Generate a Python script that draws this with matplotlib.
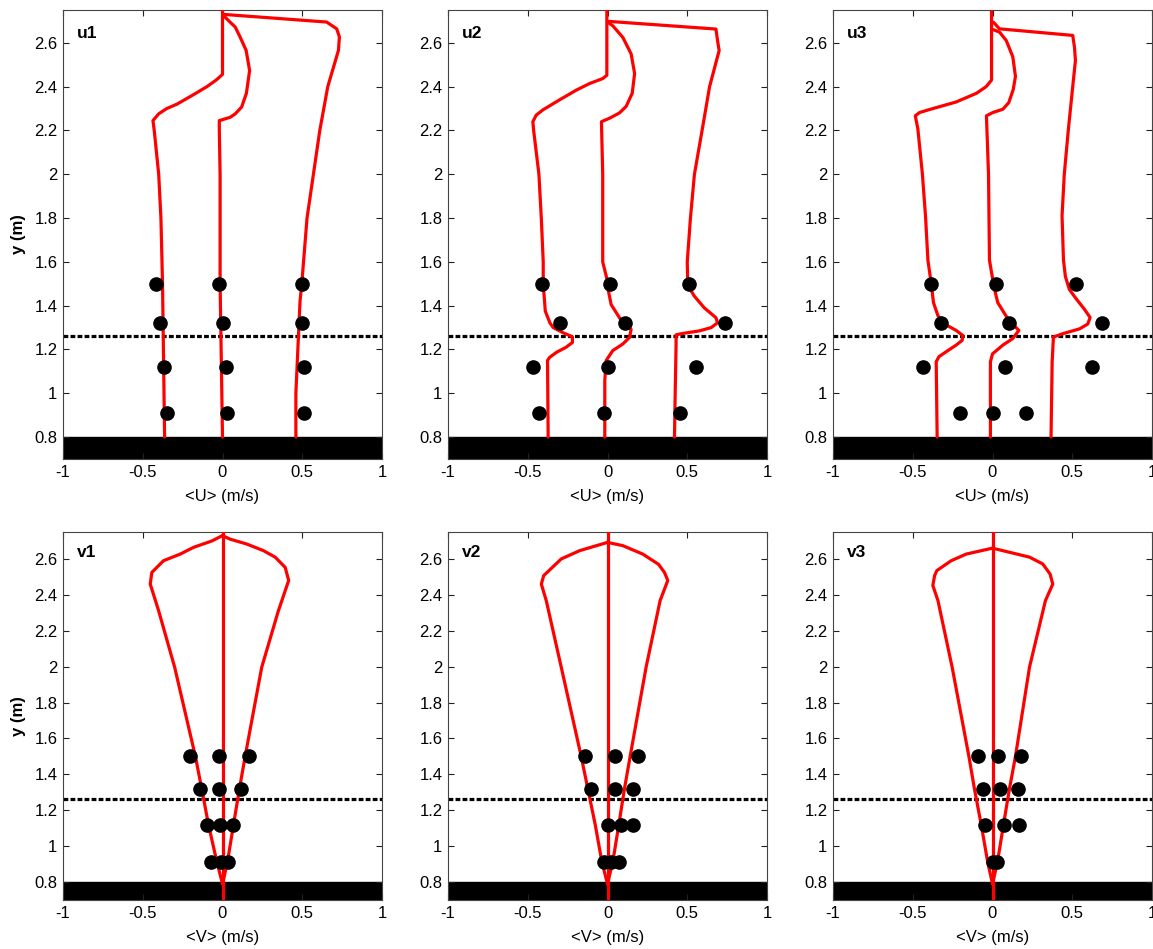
import numpy as np
import matplotlib
matplotlib.use("Agg")
import matplotlib.pyplot as plt
from matplotlib.ticker import FuncFormatter

plt.rcParams['font.family'] = ['Liberation Sans', 'DejaVu Sans']

# heights of the measurement points (same for every panel)
dot_y = [1.5, 1.32, 1.12, 0.91]
dashed_y = 1.26
bed_top = 0.8

# ---- u panels: three profiles each (left, middle, right) ----
u1_left_x = [-0.363, -0.376, -0.386, -0.40, -0.428, -0.436, -0.40, -0.35, -0.286, -0.19, -0.098, -0.04, 0.0, 0.0]
u1_left_y = [0.8, 1.5, 1.8, 2.0, 2.2, 2.245, 2.276, 2.30, 2.32, 2.36, 2.40, 2.43, 2.456, 2.75]
u1_mid_x = [0.0, -0.015, -0.015, -0.02, -0.02, 0.048, 0.08, 0.12, 0.15, 0.17, 0.148, 0.11, 0.08, 0.04, 0.006]
u1_mid_y = [0.8, 1.5, 2.0, 2.2, 2.245, 2.26, 2.276, 2.307, 2.37, 2.474, 2.566, 2.627, 2.672, 2.70, 2.725]
u1_right_x = [0.46, 0.46, 0.486, 0.497, 0.53, 0.57, 0.61, 0.66, 0.727, 0.733, 0.716, 0.653, 0.006]
u1_right_y = [0.8, 1.0, 1.42, 1.5, 1.8, 2.0, 2.2, 2.4, 2.566, 2.627, 2.664, 2.695, 2.73]
u1_dots = [[-0.42, -0.02, 0.50],
           [-0.39, 0.00, 0.50],
           [-0.365, 0.02, 0.51],
           [-0.35, 0.03, 0.51]]

u2_left_x = [-0.372, -0.376, -0.363, -0.32, -0.26, -0.22, -0.22, -0.28, -0.34, -0.36, -0.39, -0.403, -0.403,
             -0.415, -0.43, -0.463, -0.468, -0.447, -0.405, -0.30, -0.196, -0.113, -0.03, -0.004, -0.004]
u2_left_y = [0.8, 1.15, 1.164, 1.187, 1.21, 1.232, 1.258, 1.277, 1.30, 1.32, 1.375, 1.5, 1.6,
             1.8, 2.0, 2.2, 2.24, 2.27, 2.294, 2.34, 2.384, 2.414, 2.437, 2.452, 2.75]
u2_mid_x = [-0.017, -0.017, -0.008, 0.033, 0.096, 0.138, 0.148, 0.117, 0.075, 0.023, 0.006, 0.004, -0.03,
            -0.03, -0.038, 0.013, 0.075, 0.117, 0.155, 0.17, 0.148, 0.096, 0.033, 0.004]
u2_mid_y = [0.8, 1.06, 1.15, 1.195, 1.225, 1.255, 1.292, 1.307, 1.345, 1.405, 1.466, 1.5, 1.6,
            2.0, 2.24, 2.256, 2.28, 2.31, 2.37, 2.46, 2.55, 2.625, 2.678, 2.693]
u2_right_x = [0.42, 0.424, 0.43, 0.43, 0.47, 0.576, 0.65, 0.69, 0.68, 0.607, 0.545, 0.514, 0.503, 0.5,
              0.52, 0.545, 0.593, 0.64, 0.70, 0.69, 0.68, 0.008]
u2_right_y = [0.8, 0.984, 1.225, 1.267, 1.273, 1.285, 1.30, 1.322, 1.345, 1.39, 1.443, 1.48, 1.5, 1.6,
              1.8, 2.0, 2.2, 2.4, 2.565, 2.61, 2.663, 2.698]
u2_dots = [[-0.413, 0.013, 0.51],
           [-0.30, 0.11, 0.735],
           [-0.47, 0.004, 0.553],
           [-0.43, -0.019, 0.457]]

u3_left_x = [-0.347, -0.353, -0.336, -0.29, -0.228, -0.19, -0.186, -0.228, -0.30, -0.342, -0.37, -0.384,
             -0.405, -0.42, -0.44, -0.468, -0.484, -0.457, -0.374, -0.228, -0.10, -0.04, -0.006, -0.006]
u3_left_y = [0.8, 1.144, 1.167, 1.19, 1.22, 1.242, 1.264, 1.287, 1.316, 1.354, 1.414, 1.5,
             1.608, 1.81, 2.005, 2.207, 2.267, 2.282, 2.30, 2.33, 2.37, 2.40, 2.43, 2.75]
u3_mid_x = [-0.013, -0.013, 0.0, 0.065, 0.127, 0.165, 0.148, 0.096, 0.033, 0.013, 0.006, -0.019,
            -0.025, -0.038, 0.002, 0.065, 0.102, 0.13, 0.144, 0.127, 0.086, 0.044, 0.006]
u3_mid_y = [0.8, 1.144, 1.18, 1.22, 1.25, 1.287, 1.30, 1.34, 1.414, 1.474, 1.5, 1.608,
            2.0, 2.267, 2.282, 2.297, 2.327, 2.387, 2.447, 2.537, 2.611, 2.649, 2.66]
u3_right_x = [0.367, 0.374, 0.382, 0.44, 0.545, 0.597, 0.612, 0.576, 0.52, 0.482, 0.457, 0.445,
              0.436, 0.45, 0.476, 0.503, 0.52, 0.514, 0.503, 0.044, 0.006]
u3_right_y = [0.8, 1.144, 1.257, 1.272, 1.294, 1.316, 1.346, 1.384, 1.436, 1.474, 1.533, 1.608,
              1.81, 2.0, 2.207, 2.40, 2.52, 2.58, 2.634, 2.664, 2.694]
u3_dots = [[-0.388, 0.025, 0.524],
           [-0.32, 0.102, 0.685],
           [-0.436, 0.077, 0.626],
           [-0.203, 0.0, 0.207]]

# ---- v panels: centreline plus left/right envelope ----
v1_left_x = [0.0, -0.035, -0.088, -0.13, -0.17, -0.30, -0.40, -0.453, -0.443, -0.37, -0.265, -0.18, -0.067, 0.0]
v1_left_y = [0.79, 0.911, 1.12, 1.318, 1.5, 1.997, 2.31, 2.46, 2.525, 2.59, 2.627, 2.665, 2.70, 2.73]
v1_right_x = [0.0, 0.031, 0.069, 0.106, 0.142, 0.246, 0.35, 0.415, 0.393, 0.33, 0.257, 0.152, 0.048, 0.0]
v1_right_y = [0.79, 0.911, 1.12, 1.318, 1.5, 1.997, 2.31, 2.48, 2.553, 2.61, 2.646, 2.683, 2.71, 2.73]
v1_dots = [[-0.203, -0.025, 0.165],
           [-0.14, -0.019, 0.115],
           [-0.098, -0.015, 0.065],
           [-0.069, -0.01, 0.035]]

v2_left_x = [0.0, -0.035, -0.077, -0.123, -0.165, -0.29, -0.384, -0.415, -0.40, -0.29, -0.175, 0.0]
v2_left_y = [0.79, 0.911, 1.12, 1.318, 1.5, 1.997, 2.368, 2.46, 2.507, 2.6, 2.646, 2.692]
v2_right_x = [0.0, 0.033, 0.071, 0.106, 0.142, 0.242, 0.33, 0.378, 0.357, 0.32, 0.221, 0.096, 0.0]
v2_right_y = [0.79, 0.911, 1.12, 1.318, 1.5, 1.997, 2.368, 2.48, 2.525, 2.57, 2.627, 2.674, 2.692]
v2_dots = [[-0.138, 0.044, 0.19],
           [-0.104, 0.046, 0.163],
           [0.0, 0.084, 0.159],
           [-0.025, 0.02, 0.07]]

v3_left_x = [0.0, -0.03, -0.071, -0.113, -0.148, -0.253, -0.342, -0.374, -0.363, -0.349, -0.259, -0.165, 0.0]
v3_left_y = [0.79, 0.911, 1.12, 1.318, 1.5, 1.997, 2.368, 2.452, 2.507, 2.535, 2.59, 2.627, 2.66]
v3_right_x = [0.0, 0.031, 0.069, 0.106, 0.144, 0.232, 0.332, 0.378, 0.361, 0.315, 0.232, 0.0]
v3_right_y = [0.79, 0.911, 1.12, 1.318, 1.5, 1.997, 2.368, 2.46, 2.516, 2.572, 2.61, 2.66]
v3_dots = [[-0.094, 0.033, 0.18],
           [-0.058, 0.05, 0.159],
           [-0.044, 0.071, 0.165],
           [0.0, 0.029]]

centre_x = [0.0, 0.0]
centre_y = [0.7, 2.75]

panels = [
    ("u1", [(u1_left_x, u1_left_y), (u1_mid_x, u1_mid_y), (u1_right_x, u1_right_y)], u1_dots),
    ("u2", [(u2_left_x, u2_left_y), (u2_mid_x, u2_mid_y), (u2_right_x, u2_right_y)], u2_dots),
    ("u3", [(u3_left_x, u3_left_y), (u3_mid_x, u3_mid_y), (u3_right_x, u3_right_y)], u3_dots),
    ("v1", [(centre_x, centre_y), (v1_left_x, v1_left_y), (v1_right_x, v1_right_y)], v1_dots),
    ("v2", [(centre_x, centre_y), (v2_left_x, v2_left_y), (v2_right_x, v2_right_y)], v2_dots),
    ("v3", [(centre_x, centre_y), (v3_left_x, v3_left_y), (v3_right_x, v3_right_y)], v3_dots),
]

W, H = 1153, 949
fig = plt.figure(figsize=(W / 100, H / 100), dpi=100)

col_left = [63, 448, 833]
col_w = 319
rows = [(10, 459), (532, 900)]   # (top, bottom) in pixels

fmt = FuncFormatter(lambda v, p: "%g" % v)

for i, (name, lines, dots) in enumerate(panels):
    r, c = divmod(i, 3)
    top, bot = rows[r]
    ax = fig.add_axes([col_left[c] / W, 1 - bot / H, min(col_w / W, 1 - col_left[c] / W - 0.0005),
                       (bot - top) / H])

    ax.axhspan(0.7, bed_top, color='k', zorder=1)
    ax.axhline(dashed_y, color='k', lw=2.3, ls=(0, (1.5, 0.7)), zorder=2)
    for lx, ly in lines:
        ax.plot(lx, ly, color='#ff0000', lw=2.3, zorder=3,
                solid_joinstyle='round', solid_capstyle='round')
    for hy, row in zip(dot_y, dots):
        ax.plot(row, [hy] * len(row), 'o', color='k', ms=9.5, zorder=4)

    ax.set_xlim(-1, 1)
    ax.set_ylim(0.7, 2.75)
    ax.set_xticks([-1, -0.5, 0, 0.5, 1])
    ax.set_yticks(np.arange(0.8, 2.61, 0.2))
    ax.xaxis.set_major_formatter(fmt)
    ax.yaxis.set_major_formatter(fmt)
    ax.tick_params(direction='in', length=4, width=0.8, top=True, right=True,
                   labelsize=12, pad=4, colors='#222222', labelcolor='k')
    for s in ax.spines.values():
        s.set_color('#444444')
        s.set_linewidth(0.8)

    ax.text(0.045, 0.965, name, transform=ax.transAxes, fontsize=12.5,
            fontweight='bold', va='top', ha='left')
    ax.set_xlabel("<U> (m/s)" if r == 0 else "<V> (m/s)", fontsize=12, labelpad=7)
    if c == 0:
        ax.set_ylabel("y (m)", fontsize=12, fontweight='bold', labelpad=6)

fig.savefig("out.png", dpi=100)
